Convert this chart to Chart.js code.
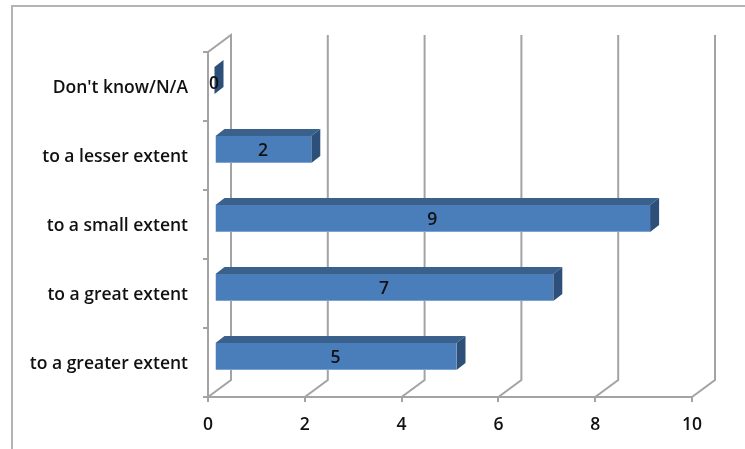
<!DOCTYPE html>
<html>
<head>
<meta charset="utf-8">
<title>Extent</title>
<script src="https://cdn.jsdelivr.net/npm/chart.js@4/dist/chart.umd.min.js"></script>
<style>
  html, body { margin: 0; padding: 0; background: #fff; overflow: hidden; }
  #wrap { position: relative; width: 745px; height: 449px; }
  /* outer chart frame, open at the right and bottom */
  #frame { position: absolute; left: 11px; top: 5px; right: 0; bottom: 0;
           border-left: 2px solid #b4b4b4; border-top: 2px solid #b4b4b4; }
  canvas { position: absolute; left: 0; top: 0; }
</style>
</head>
<body>
<div id="wrap">
  <div id="frame"></div>
  <canvas id="extentChart" width="745" height="449"></canvas>
</div>
<script>
const categories = ["Don't know/N/A", "to a lesser extent", "to a small extent", "to a great extent", "to a greater extent"];
const counts = [0, 2, 9, 7, 5];
const valueTicks = [0, 2, 4, 6, 8, 10];

const FONT = "'Open Sans', sans-serif";
const GRID = "#a3a3a3";

// fake 3D: wall depth and bar depth in pixels
const WALL_DX = 23, WALL_DY = 17;
const BAR_DX = 9, BAR_DY = 7;
const BAR_SHIFT_X = 6.5, BAR_SHIFT_Y = -6;

// back wall lines and the floor diagonals, drawn from the value scale
const wallPlugin = {
  id: "wall",
  beforeDatasetsDraw(chart) {
    const { ctx, chartArea, scales } = chart;
    ctx.save();
    ctx.strokeStyle = GRID;
    ctx.lineWidth = 2;
    valueTicks.forEach((v) => {
      const x = scales.x.getPixelForValue(v);
      ctx.beginPath();
      ctx.moveTo(x, chartArea.bottom);
      ctx.lineTo(x + WALL_DX, chartArea.bottom - WALL_DY);
      ctx.lineTo(x + WALL_DX, chartArea.top - WALL_DY);
      if (v === 0) ctx.lineTo(x, chartArea.top);
      ctx.stroke();
    });
    ctx.restore();
  },
};

// moves the bars off the wall and adds their top and end faces
const bar3dPlugin = {
  id: "bar3d",
  afterDatasetsUpdate(chart) {
    chart.getDatasetMeta(0).data.forEach((bar) => {
      bar.x += BAR_SHIFT_X;
      bar.base += BAR_SHIFT_X;
      bar.y += BAR_SHIFT_Y;
    });
  },
  beforeDatasetsDraw(chart) {
    const { ctx } = chart;
    chart.getDatasetMeta(0).data.forEach((bar) => {
      const top = bar.y - bar.height / 2;
      const bottom = bar.y + bar.height / 2;
      ctx.fillStyle = "#3a608c";
      ctx.beginPath();
      ctx.moveTo(bar.base, top);
      ctx.lineTo(bar.base + BAR_DX, top - BAR_DY);
      ctx.lineTo(bar.x + BAR_DX, top - BAR_DY);
      ctx.lineTo(bar.x, top);
      ctx.closePath();
      ctx.fill();
      ctx.fillStyle = "#2c5079";
      ctx.beginPath();
      ctx.moveTo(bar.x, top);
      ctx.lineTo(bar.x + BAR_DX, top - BAR_DY);
      ctx.lineTo(bar.x + BAR_DX, bottom - BAR_DY);
      ctx.lineTo(bar.x, bottom);
      ctx.closePath();
      ctx.fill();
    });
  },
  afterDatasetsDraw(chart) {
    const { ctx } = chart;
    ctx.save();
    ctx.font = "600 17.5px " + FONT;
    ctx.fillStyle = "#111";
    ctx.textAlign = "center";
    ctx.textBaseline = "middle";
    chart.getDatasetMeta(0).data.forEach((bar, i) => {
      const mid = (bar.base + bar.x) / 2 - 0.5;
      // the zero label sits a little lower on its thin bar
      const dy = counts[i] === 0 ? 4 : 2;
      ctx.fillText(String(counts[i]), mid, bar.y + dy);
    });
    ctx.restore();
  },
};

new Chart(document.getElementById("extentChart"), {
  type: "bar",
  data: {
    labels: categories,
    datasets: [
      {
        data: counts,
        backgroundColor: "#4a7ebb",
        borderColor: "#7da3d3",
        borderWidth: { bottom: 1 },
        categoryPercentage: 1,
        barPercentage: 0.39,
      },
    ],
  },
  options: {
    indexAxis: "y",
    responsive: false,
    animation: false,
    layout: { padding: { top: 52, right: 53, bottom: 0, left: 0 } },
    plugins: { legend: { display: false }, tooltip: { enabled: false } },
    scales: {
      x: {
        min: 0,
        max: 10,
        afterBuildTicks(scale) {
          scale.ticks = valueTicks.map((value) => ({ value }));
        },
        afterFit(scale) {
          scale.height = 52;
        },
        grid: { drawOnChartArea: false, color: GRID, lineWidth: 2, tickLength: 5 },
        border: { color: GRID, width: 2 },
        ticks: { color: "#111", font: { family: FONT, size: 17.5, weight: "600" }, padding: 13, maxRotation: 0 },
      },
      y: {
        afterFit(scale) {
          scale.width = 208;
        },
        grid: { drawOnChartArea: false, color: GRID, lineWidth: 2, tickLength: 5 },
        border: { color: GRID, width: 2 },
        ticks: { color: "#111", font: { family: FONT, size: 17.5, weight: "600" }, padding: 15, labelOffset: 2, autoSkip: false },
      },
    },
  },
  plugins: [wallPlugin, bar3dPlugin],
});
</script>
</body>
</html>
